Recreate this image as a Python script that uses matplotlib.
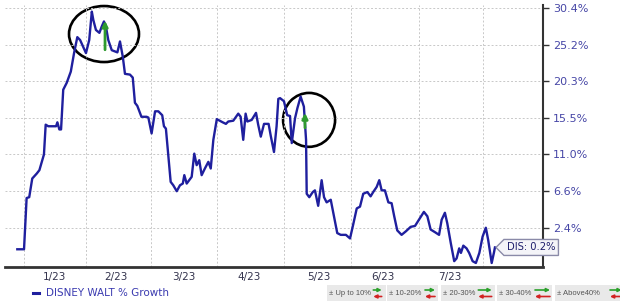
import numpy as np
import matplotlib
matplotlib.use("Agg")
import matplotlib.pyplot as plt
from matplotlib.patches import Ellipse, Rectangle, FancyArrowPatch
from matplotlib.path import Path
from matplotlib.lines import Line2D

# days since 1 Jan 2023 and cumulative % growth of DIS
days = [-3.1, 0.0, 1.2, 2.4, 3.8, 5.9, 7.1, 8.2, 9.2, 10.0,
        11.2, 14.8, 15.4, 16.3, 17.1, 18.1, 19.7, 21.6, 23.1, 24.6,
        25.9, 28.6, 30.1, 31.3, 32.0, 33.2, 34.8, 35.9, 36.9, 37.8,
        38.9, 40.5, 43.1, 44.3, 45.6, 46.6, 48.9, 50.2, 51.2, 52.3,
        54.2, 56.6, 57.4, 58.9, 60.5, 62.0, 63.8, 64.6, 65.5, 67.7,
        68.9, 70.5, 72.0, 73.3, 74.0, 75.1, 77.4, 78.6, 79.7, 80.9,
        82.0, 83.5, 85.1, 86.2, 87.4, 89.0, 91.7, 93.2, 94.3, 96.6,
        98.9, 100.0, 101.2, 102.3, 103.1, 105.1, 107.1, 108.1, 109.3, 110.8,
        112.9, 113.9, 115.4, 116.6, 117.4, 118.2, 120.0, 121.5, 122.8, 123.6,
        125.1, 126.2, 127.7, 129.2, 130.2, 130.5, 131.7, 133.3, 134.3, 135.8,
        137.4, 138.5, 139.7, 141.6, 143.1, 144.6, 146.2, 148.6, 150.5, 152.0,
        153.6, 155.1, 156.6, 158.5, 160.0, 161.2, 162.8, 164.0, 165.1, 166.6,
        168.2, 169.7, 170.9, 172.3, 174.3, 176.3, 178.5, 180.5, 182.8, 184.6,
        186.2, 187.7, 189.7, 191.6, 192.8, 194.3, 195.4, 197.0, 198.6, 199.7,
        200.9, 201.7, 202.8, 204.3, 205.5, 207.1, 208.6, 210.2, 211.7, 213.2,
        214.3, 215.9, 217.0, 217.4]
growth = [0.0, 0.0, 5.8, 5.9, 8.1, 8.7, 9.1, 10.1, 11.0, 14.7,
          14.5, 14.5, 15.0, 14.1, 14.1, 19.2, 20.1, 21.6, 24.1, 26.3,
          25.9, 24.1, 25.9, 29.9, 28.7, 27.3, 26.9, 27.8, 28.5, 27.8,
          25.9, 24.5, 24.2, 25.7, 23.6, 21.3, 21.2, 20.8, 17.5, 17.1,
          15.7, 15.7, 15.6, 13.6, 16.4, 16.4, 15.9, 14.5, 14.2, 7.7,
          7.3, 6.6, 7.3, 7.5, 8.5, 7.5, 8.3, 11.1, 9.7, 10.3,
          8.5, 9.3, 10.1, 9.3, 12.8, 15.4, 15.0, 14.8, 15.1, 15.2,
          16.1, 15.7, 12.8, 16.1, 15.1, 15.3, 16.2, 14.7, 13.2, 14.8,
          14.8, 13.3, 11.3, 14.5, 18.0, 18.1, 17.7, 15.9, 15.8, 12.4,
          15.5, 16.8, 18.3, 17.0, 12.8, 6.3, 5.9, 6.5, 6.7, 4.9,
          7.9, 5.9, 5.3, 5.6, 3.7, 1.8, 1.6, 1.6, 1.2, 2.8,
          4.6, 4.8, 6.3, 6.5, 6.0, 6.5, 7.1, 7.9, 6.7, 6.7,
          5.3, 5.2, 3.7, 2.1, 1.6, 2.0, 2.5, 2.6, 3.5, 4.2,
          3.7, 2.2, 1.9, 1.6, 3.3, 4.1, 2.9, 0.7, -1.3, -1.0,
          0.1, -0.4, 0.4, 0.1, -0.4, -1.3, -1.5, -0.4, 1.4, 2.4,
          1.0, -1.5, -0.3, 0.2]

month_labels = ["1/23", "2/23", "3/23", "4/23", "5/23", "6/23", "7/23"]
label_days = [14, 42.5, 74, 104, 136, 165.5, 196.5]
grid_days = [0, 28.6, 58.5, 89.2, 120.0, 150.8, 182.3, 212.0]
y_ticks = [2.4, 6.6, 11.0, 15.5, 20.3, 25.2, 30.4]

legend_labels = ["± Up to 10%", "± 10-20%", "± 20-30%", "± 30-40%", "± Above40%"]

LINE = "#1f1f9e"
fig = plt.figure(figsize=(6.2, 3.04), dpi=100)
ax = fig.add_axes([0.008, 0.1227, 0.8682, 0.8609])


def fwd(v):
    return np.log1p(np.asarray(v) / 100.0)


def inv(y):
    return np.expm1(np.asarray(y)) * 100.0


ax.set_yscale("function", functions=(fwd, inv))
ax.plot(days, growth, color=LINE, lw=1.7, solid_joinstyle="round")
ax.set_xlim(-8.8, 239.7)
ax.set_ylim(-1.9, 30.85)

# axes styling: only bottom and right spines
for s in ["top", "left"]:
    ax.spines[s].set_visible(False)
ax.spines["bottom"].set_color("#333333")
ax.spines["bottom"].set_linewidth(2.0)
ax.spines["right"].set_color("#333333")
ax.spines["right"].set_linewidth(1.5)

ax.yaxis.tick_right()
ax.set_yticks(y_ticks)
ax.set_yticklabels([f"{t:.1f}%" for t in y_ticks])
ax.yaxis.set_minor_locator(matplotlib.ticker.NullLocator())
ax.tick_params(axis="y", length=4, width=1, color="#333333", pad=3,
               labelsize=8, labelcolor="#4646a6")

ax.set_xticks(label_days)
ax.set_xticklabels(month_labels)
ax.set_xticks(grid_days, minor=True)
ax.tick_params(axis="x", which="both", length=0, pad=4, labelsize=7.5,
               labelcolor="#33334d")

ax.grid(axis="y", which="major", color="#c8c8c8", lw=0.7, ls=(0, (2, 2)))
ax.grid(axis="x", which="minor", color="#c8c8c8", lw=0.7, ls=(0, (2, 2)))
ax.grid(axis="x", which="major", visible=False)

# hand-drawn style highlight circles
ax.add_patch(Ellipse((0.184, 0.889), 0.130, 0.214, transform=ax.transAxes,
                     fill=False, ec="black", lw=1.9, clip_on=False))
ax.add_patch(Ellipse((0.565, 0.561), 0.0966, 0.206, transform=ax.transAxes,
                     fill=False, ec="black", lw=1.9, clip_on=False))

# green up arrows
arrow_kw = dict(arrowstyle="-|>", color="#2e9a2e", lw=2.0, mutation_scale=8,
                shrinkA=0, shrinkB=0)
ax.annotate("", xy=(37.4, 28.6), xytext=(0, -29), textcoords="offset pixels",
            arrowprops=arrow_kw)
ax.annotate("", xy=(129.7, 16.2), xytext=(0, -15), textcoords="offset pixels",
            arrowprops=arrow_kw)


# tag shaped label box for the last value
def tag_box(x0, y0, width, height, mutation_size):
    pad = 0.3 * mutation_size
    x0, y0 = x0 - pad, y0 - pad
    w, h = width + 2 * pad, height + 2 * pad
    tip = 0.5 * h
    verts = [(x0, y0), (x0 + w, y0), (x0 + w, y0 + h), (x0, y0 + h),
             (x0 - tip, y0 + h / 2), (x0, y0)]
    return Path(verts, closed=True)


ax.annotate(f"DIS: {growth[-1]:.1f}%", xy=(days[-1], growth[-1]),
            xytext=(12, 0), textcoords="offset pixels", ha="left", va="center",
            fontsize=7.2, color="#1d1d6b", annotation_clip=False,
            bbox=dict(boxstyle=tag_box, fc="#f4f4f8", ec="#8a8aa8", lw=1))


def fx(px):
    return px / 620.0


def fy(py):
    return 1 - py / 304.0


# series legend
fig.add_artist(Line2D([fx(33), fx(39)], [fy(293), fy(293)], color=LINE, lw=2.2,
                      transform=fig.transFigure))
fig.text(fx(46), fy(293), "DISNEY WALT % Growth", fontsize=7.5, color="#3b3bb0",
         va="center", ha="left")

# colour key boxes at bottom right
box_x = [(326.7, 385.7), (387, 438), (440.7, 495), (497, 551.7), (555, 623)]
arrow_x = [(373.3, 381.7), (425, 435), (478.3, 491.7), (535, 550), (610, 621.7)]
for lab, (x0, x1), (a0, a1) in zip(legend_labels, box_x, arrow_x):
    fig.add_artist(Rectangle((fx(x0), fy(300.7)), fx(x1) - fx(x0), fy(285) - fy(300.7),
                             transform=fig.transFigure, fc="#e9e9e9", ec="none"))
    fig.text(fx(x0 + 2), fy(293.3), lab, fontsize=5.5, family="Liberation Sans",
             color="#555555", va="center", ha="left")
    fig.add_artist(FancyArrowPatch((fx(a0), fy(290)), (fx(a1), fy(290)),
                                   transform=fig.transFigure, arrowstyle="-|>",
                                   mutation_scale=5, lw=1.2, color="#2aa02a",
                                   shrinkA=0, shrinkB=0))
    fig.add_artist(FancyArrowPatch((fx(a1), fy(296.5)), (fx(a0), fy(296.5)),
                                   transform=fig.transFigure, arrowstyle="-|>",
                                   mutation_scale=5, lw=1.2, color="#d22222",
                                   shrinkA=0, shrinkB=0))

fig.savefig("out.png", dpi=100)
